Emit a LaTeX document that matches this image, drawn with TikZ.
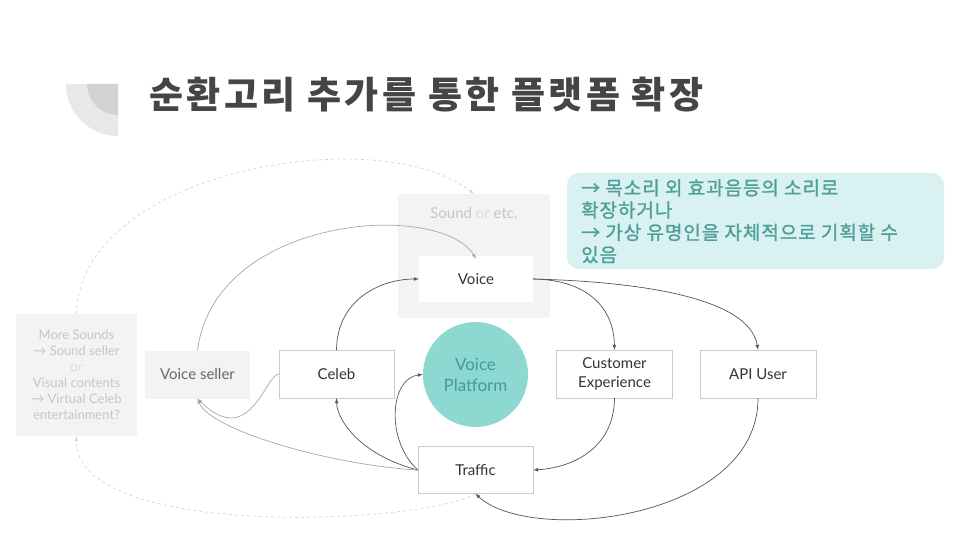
\documentclass[tikz,border=0pt]{standalone}
\usepackage{fontspec}
\setmainfont{Lato}
\newfontfamily\kr{Noto Sans CJK KR}
\newfontfamily\krtitle{Noto Sans CJK KR}[LetterSpace=9]
\newfontfamily\krnote{Noto Sans CJK KR}[FakeBold=1.2, LetterSpace=5]
\usetikzlibrary{positioning}
\definecolor{titlegray}{HTML}{454545}
\definecolor{decoout}{HTML}{E8E8E8}
\definecolor{decoin}{HTML}{D2D2D2}
\definecolor{panel}{HTML}{F3F3F3}
\definecolor{boxline}{HTML}{CCCCCC}
\definecolor{darkline}{HTML}{555555}
\definecolor{softline}{HTML}{A8A8A8}
\definecolor{dashline}{HTML}{D6D6D6}
\definecolor{faint}{HTML}{C6C6C6}
\definecolor{fainter}{HTML}{DCDCDC}
\definecolor{tealfill}{HTML}{8ED8D2}
\definecolor{tealtext}{HTML}{3F9C98}
\definecolor{notefill}{HTML}{D9F1F1}
\definecolor{notetext}{HTML}{4E9E9A}
\tikzset{
  box/.style={draw=boxline, fill=white, inner sep=0pt, minimum width=115pt,
    minimum height=48pt, align=center, text=black!80, font=\fontsize{15}{19}\selectfont},
  graybox/.style={fill=panel, inner sep=0pt, align=center},
  flow/.style={->, >=latex, draw=darkline, line width=0.7pt},
  softflow/.style={->, >=latex, draw=softline, line width=0.7pt},
  loopflow/.style={->, >=latex, draw=dashline, line width=0.7pt, dashed}
}
\begin{document}
\begin{tikzpicture}[x=1pt,y=-1pt]
\useasboundingbox[fill=white] (0,0) rectangle (960,540);
% corner decoration
\fill[decoout] (118,84) -- (66,84) arc[start angle=180, end angle=90, radius=52] -- cycle;
\fill[decoin] (118,84) -- (87,84) arc[start angle=180, end angle=90, radius=31] -- cycle;
% title
\node[anchor=west, text=titlegray, font=\krtitle\bfseries\fontsize{37}{40}\selectfont] (title) at (146,95) {순환고리 추가를 통한 플랫폼 확장};
% note
\node[fill=notefill, rounded corners=12pt, minimum width=377pt, minimum height=96pt] (notebg) at (755.5,221) {};
\node[anchor=north west, align=left, text=notetext, inner sep=0pt,
  font=\krnote\fontsize{19}{22.3}\selectfont] (note) at (581,179)
  {→ 목소리 외 효과음등의 소리로\\확장하거나\\→ 가상 유명인을 자체적으로 기획할 수\\있음};
% panels
\node[graybox, minimum width=152pt, minimum height=124pt] (sound) at (474,256) {};
\node[text=faint, font=\fontsize{15}{18}\selectfont] (soundlbl) at (474,213) {Sound \textcolor{fainter}{or} etc.};
\node[graybox, minimum width=121pt, minimum height=122pt, text=faint,
  font=\fontsize{13}{16}\selectfont] (more) at (76.5,375)
  {More Sounds\\→ Sound seller\\\textcolor{fainter}{or}\\Visual contents\\→ Virtual Celeb\\entertainment?};
\node[graybox, minimum width=105pt, minimum height=48pt, text=black!60,
  font=\fontsize{15}{19}\selectfont] (vseller) at (197.5,374.5) {Voice seller};
% nodes
\node[box, draw=none, minimum width=114pt, minimum height=46pt] (voice) at (476,279) {Voice};
\node[circle, fill=tealfill, minimum size=105pt, inner sep=0pt, align=center,
  text=tealtext, font=\fontsize{17}{21}\selectfont] (platform) at (475.5,374.5) {Voice\\Platform};
\node[box] (celeb) at (336.5,374) {Celeb};
\node[box, minimum width=116pt] (customer) at (614.5,374) {Customer\\Experience};
\node[box, minimum width=116pt] (api) at (758,374) {API User};
\node[box, minimum height=47pt] (traffic) at (475.5,470) {Traffic};
% connectors
\draw[softflow] (vseller.north) .. controls (215,215) and (440,200) .. ([yshift=-3]voice.north);
\draw[flow] (celeb.north) .. controls (337,300) and (380,279) .. (voice.west);
\draw[flow] (voice.east) .. controls (590,280) and (614,310) .. (customer.north);
\draw[flow] (voice.east) .. controls (650,282) and (750,300) .. (api.north);
\draw[flow] (customer.south) .. controls (614,450) and (570,468) .. (traffic.east);
\draw[flow] (api.south) .. controls (758,520) and (530,545) .. (traffic.south);
\draw[flow] (traffic.west) .. controls (360,455) and (337,420) .. (celeb.south);
\draw[flow] (traffic.west) .. controls (385,440) and (390,378) .. (platform.west);
\draw[softflow] (traffic.west) .. controls (330,465) and (210,430) .. (vseller.south);
\draw[softflow] (celeb.west) .. controls (265,375) and (250,450) .. (vseller.south);
\draw[loopflow] (more.north) .. controls (80,170) and (380,120) .. (sound.north);
\draw[loopflow] (traffic.south) .. controls (420,525) and (75,540) .. (more.south);
\end{tikzpicture}
\end{document}
